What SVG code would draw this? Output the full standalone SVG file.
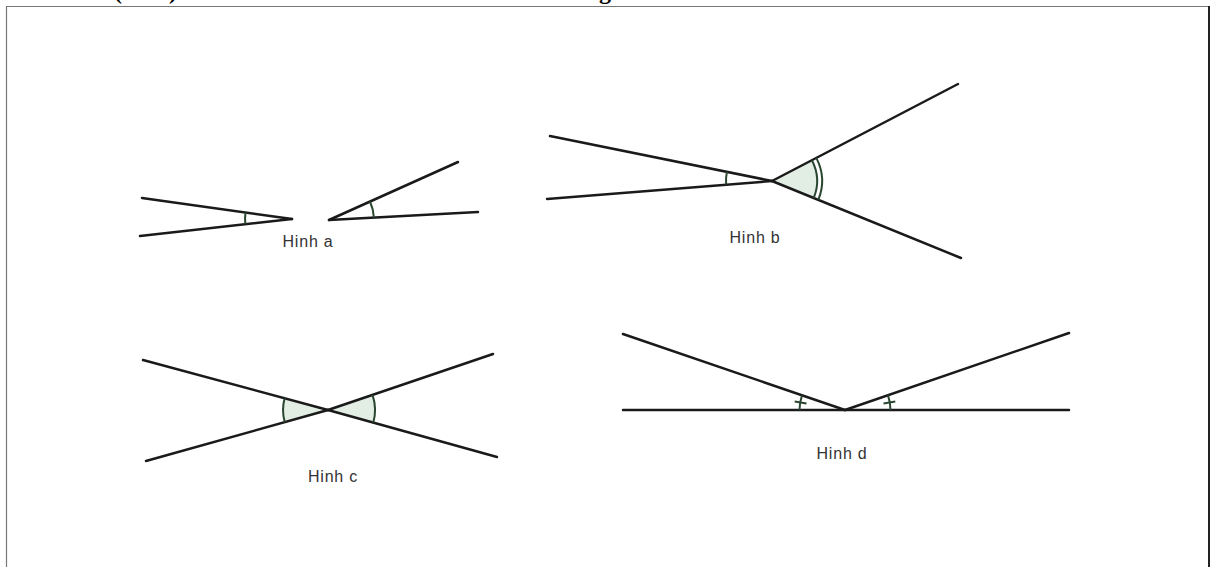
<svg xmlns="http://www.w3.org/2000/svg" width="1211" height="567" viewBox="0 0 1211 567">
<style>
.ln{stroke:#1a1a1a;stroke-width:2.5;stroke-linecap:round;fill:none}
.arc{stroke:#2a4630;stroke-width:2;fill:none}
.fill{fill:#e2eee4;stroke:none}
.lbl{font-family:"Liberation Sans",Arial,sans-serif;font-size:16px;fill:#333;letter-spacing:0.8px;text-anchor:middle}
.top{font-family:"Liberation Serif","Times New Roman",serif;font-size:24px;font-weight:bold;fill:#000}
</style>
<rect x="0" y="0" width="1211" height="567" fill="#ffffff"/>
<g id="frame">
<line x1="6" y1="6.5" x2="1210" y2="6.5" stroke="#777" stroke-width="1"/>
<line x1="6.5" y1="6" x2="6.5" y2="567" stroke="#777" stroke-width="1.2"/>
<line x1="1209" y1="6" x2="1209" y2="567" stroke="#222" stroke-width="2"/>
</g>
<g id="cut-text">
<text class="top" x="114" y="-1">(</text>
<text class="top" x="169" y="-1">)</text>
<text class="top" x="599" y="-1" font-weight="normal">g</text>
</g>
<g id="hinh-a">
<g class="connectors">
<line class="ln" x1="142" y1="198" x2="292" y2="219"/>
<line class="ln" x1="140" y1="236" x2="292" y2="219"/>
<line class="ln" x1="329" y1="220" x2="458" y2="162"/>
<line class="ln" x1="329" y1="220" x2="478" y2="212"/>
</g>
<path class="arc" d="M245.5 212.5 A47 47 0 0 0 245.3 224.2"/>
<path class="arc" d="M370 201.5 A45 45 0 0 1 373.9 217.6"/>
<text class="lbl" x="308" y="247">Hinh a</text>
</g>
<g id="hinh-b">
<path class="fill" d="M772 181 L811.9 160.2 A45 45 0 0 1 813.7 198 Z"/>
<g class="connectors">
<line class="ln" x1="550" y1="136" x2="772" y2="181"/>
<line class="ln" x1="547" y1="199" x2="772" y2="181"/>
<line class="ln" x1="772" y1="181" x2="958" y2="84"/>
<line class="ln" x1="772" y1="181" x2="961" y2="258"/>
</g>
<path class="arc" d="M726.9 171.9 A46 46 0 0 0 726.1 184.7"/>
<path class="arc" d="M811.9 160.2 A45 45 0 0 1 813.7 198"/>
<path class="arc" d="M816.3 157.9 A50 50 0 0 1 818.3 199.9"/>
<text class="lbl" x="755" y="243">Hinh b</text>
</g>
<g id="hinh-c">
<path class="fill" d="M328 410 L284.6 398.3 A45 45 0 0 0 284.7 422.1 Z"/>
<path class="fill" d="M328 410 L372.5 394.9 A47 47 0 0 1 373.3 422.6 Z"/>
<g class="connectors">
<line class="ln" x1="143" y1="360" x2="328" y2="410"/>
<line class="ln" x1="146" y1="461" x2="328" y2="410"/>
<line class="ln" x1="328" y1="410" x2="493" y2="354"/>
<line class="ln" x1="328" y1="410" x2="497" y2="457"/>
</g>
<path class="arc" d="M284.6 398.3 A45 45 0 0 0 284.7 422.1"/>
<path class="arc" d="M372.5 394.9 A47 47 0 0 1 373.3 422.6"/>
<text class="lbl" x="333" y="482">Hinh c</text>
</g>
<g id="hinh-d">
<g class="connectors">
<line class="ln" x1="623" y1="410" x2="1069" y2="410"/>
<line class="ln" x1="623" y1="334" x2="845" y2="410"/>
<line class="ln" x1="845" y1="410" x2="1069" y2="333"/>
</g>
<path class="arc" d="M799.5 410 A45.5 45.5 0 0 1 802 395.3"/>
<line class="arc" x1="806.5" y1="403.6" x2="794.7" y2="401.6"/>
<path class="arc" d="M888 395.3 A45.5 45.5 0 0 1 890.5 410"/>
<line class="arc" x1="883.5" y1="403.6" x2="895.3" y2="401.6"/>
<text class="lbl" x="842" y="459">Hinh d</text>
</g>
</svg>
